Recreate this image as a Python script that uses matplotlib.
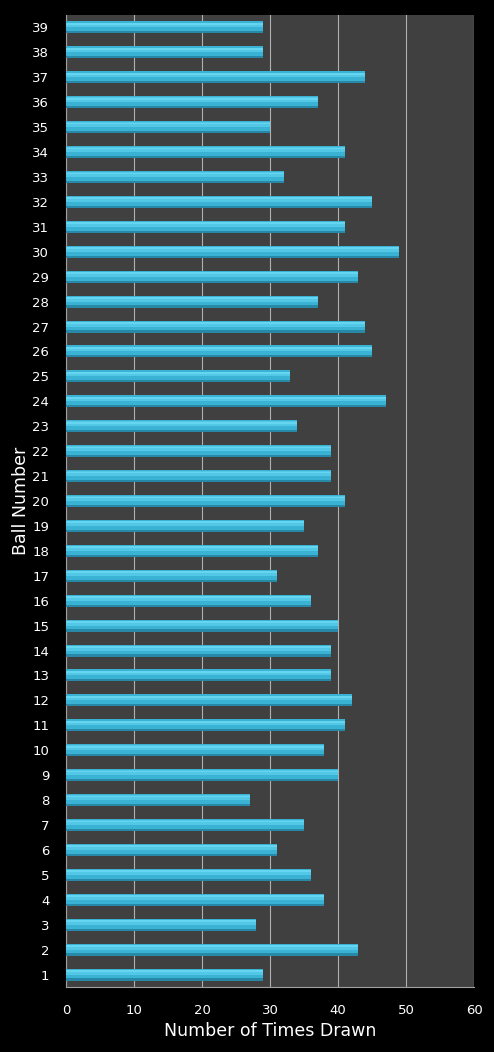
import numpy as np
import matplotlib
matplotlib.use('Agg')
import matplotlib.pyplot as plt

# ball numbers 1..39 and how many times each was drawn
balls = list(range(1, 40))
times_drawn = [29, 43, 28, 38, 36, 31, 35, 27, 40, 38,
               41, 42, 39, 39, 40, 36, 31, 37, 35, 41,
               39, 39, 34, 47, 33, 45, 44, 37, 43, 49,
               41, 45, 32, 41, 30, 37, 44, 29, 29]
x_ticks = [0, 10, 20, 30, 40, 50, 60]

fig = plt.figure(figsize=(4.94, 10.52), dpi=100, facecolor='black')
ax = fig.add_axes([66 / 494, 1 - 987 / 1052, (474 - 66) / 494, (987 - 15) / 1052])
ax.set_facecolor('#404040')

y = np.arange(len(balls))
h = 0.48
# glossy bars: base colour, bright upper band, dark lower edge
ax.barh(y, times_drawn, height=h, color='#3AB2D3', edgecolor='none', zorder=3)
ax.barh(y + h * 0.2, times_drawn, height=h * 0.4, color='#52C8E6', edgecolor='none', zorder=4)
ax.barh(y + h * 0.3, times_drawn, height=h * 0.15, color='#66D6F0', edgecolor='none', zorder=4)
ax.barh(y - h * 0.41, times_drawn, height=h * 0.18, color='#2789A7', edgecolor='none', zorder=4)

ax.set_xlim(0, 60)
ax.set_ylim(-0.5, len(balls) - 0.5)
ax.set_xticks(x_ticks)
ax.set_yticks(y)
ax.set_yticklabels([str(b) for b in balls])
ax.xaxis.grid(True, color='#B0B0B0', linewidth=0.8, zorder=1)
ax.set_axisbelow(True)

ax.tick_params(axis='both', length=0, colors='white', labelsize=9.5)
ax.tick_params(axis='x', pad=12)
ax.tick_params(axis='y', pad=12)

for side in ['top', 'right']:
    ax.spines[side].set_visible(False)
ax.spines['left'].set_color('#A0A0A0')
ax.spines['bottom'].set_color('#A0A0A0')

ax.set_xlabel('Number of Times Drawn', color='white', fontsize=12.5, labelpad=4)
ax.set_ylabel('Ball Number', color='white', fontsize=12.5, labelpad=2)

fig.savefig('out.png', dpi=100, facecolor='black')
